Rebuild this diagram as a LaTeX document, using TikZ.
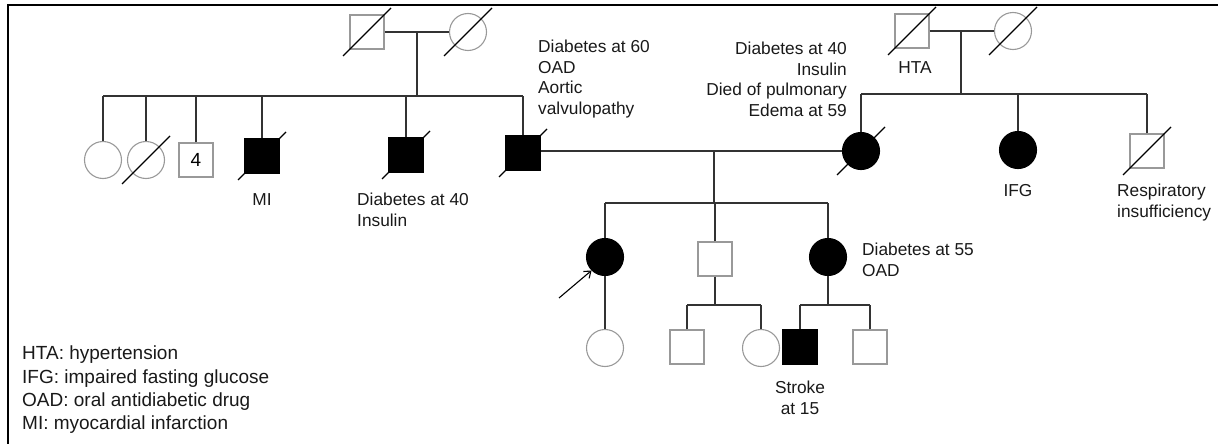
\documentclass[tikz,border=0pt]{standalone}
\usepackage{fontspec}
\setmainfont{Liberation Sans}
\usetikzlibrary{arrows.meta}
\newcommand\pdead[1]{\draw[dline] ([shift={(-24,24)}]#1.center) -- ([shift={(24,-24)}]#1.center);}
\begin{document}
\begin{tikzpicture}[x=1pt,y=-1pt,
  conn/.style={draw=black!80, line width=1.2pt},
  dline/.style={draw=black, line width=1.1pt},
  male/.style={rectangle, draw=black!40, line width=1.1pt, minimum size=34pt, inner sep=0pt},
  female/.style={circle, draw=black!40, line width=1.1pt, minimum size=37pt, inner sep=0pt},
  aff/.style={fill=black, draw=black},
  lbl/.style={inner sep=0pt, text=black!90, font=\fontsize{17.3}{20.5}\selectfont},
  legend/.style={inner sep=0pt, text=black!90, font=\fontsize{19}{23.3}\selectfont, align=left, anchor=north west},
  frame/.style={draw=black, line width=2.5pt}
]
\useasboundingbox (0,0) rectangle (1218,444);
\draw[frame] (8,444) -- (8,5) -- (1218,5);

% Generation I, left couple
\node[male]   (gf1) at (367,32) {};
\node[female] (gm1) at (468,32) {};
\pdead{gf1}\pdead{gm1}
\draw[conn] (gf1.east) -- (gm1.west);
\coordinate (u1) at (417,32);
\coordinate (s1) at (417,96);
\draw[conn] (u1) -- (s1);

% Generation II, left sibship
\node[female] (a1) at (103,160) {};
\node[female] (a2) at (146,160) {};
\node[male, font=\fontsize{19}{22}\selectfont] (a3) at (196,160) {4};
\node[male, aff] (a4) at (262,156) {};
\node[male, aff] (a5) at (406,155) {};
\node[male, aff] (fa) at (523,153) {};
\pdead{a2}\pdead{a4}\pdead{a5}\pdead{fa}
\draw[conn] (a1.north |- s1) -- (fa.north |- s1);
\foreach \n in {a1,a2,a3,a4,a5,fa} \draw[conn] (\n.north) -- (\n.north |- s1);

% Generation I, right couple
\node[male]   (gf2) at (912,31) {};
\node[female] (gm2) at (1013,31) {};
\pdead{gf2}\pdead{gm2}
\draw[conn] (gf2.east) -- (gm2.west);
\coordinate (u2) at (961,31);
\coordinate (s2) at (961,94);
\draw[conn] (u2) -- (s2);

% Generation II, right sibship
\node[female, aff] (mo) at (861,151) {};
\node[female, aff] (ifg) at (1018,150) {};
\node[male] (re) at (1147,151) {};
\pdead{mo}\pdead{re}
\draw[conn] (mo.north |- s2) -- (re.north |- s2);
\foreach \n in {mo,ifg,re} \draw[conn] (\n.north) -- (\n.north |- s2);

% Marriage
\draw[conn] (fa.east |- mo.west) -- (mo.west);
\coordinate (u3) at (714,151);
\coordinate (s3) at (714,203);
\draw[conn] (u3) -- (s3);

% Generation III
\node[female, aff] (pr) at (605,257) {};
\node[male] (br) at (715,259) {};
\node[female, aff] (si) at (828,257) {};
\draw[conn] (pr.north |- s3) -- (si.north |- s3);
\foreach \n in {pr,br,si} \draw[conn] (\n.north) -- (\n.north |- s3);
\coordinate (arr) at (559,298);
\draw[dline, -{Straight Barb[length=6pt,width=9pt]}] (arr) -- (pr.225);

% Generation IV
\node[female] (pc) at (605,348) {};
\draw[conn] (pr.south) -- (pc.north);

\coordinate (s4) at (715,305);
\node[male] (b1) at (687,347) {};
\node[female] (b2) at (761,348) {};
\draw[conn] (br.south) -- (s4);
\draw[conn] (b1.north |- s4) -- (b2.north |- s4);
\foreach \n in {b1,b2} \draw[conn] (\n.north) -- (\n.north |- s4);

\coordinate (s5) at (828,305);
\node[male, aff] (c1) at (800,347) {};
\node[male] (c2) at (870,347) {};
\draw[conn] (si.south) -- (s5);
\draw[conn] (c1.north |- s5) -- (c2.north |- s5);
\foreach \n in {c1,c2} \draw[conn] (\n.north) -- (\n.north |- s5);

% Labels
\node[lbl, align=left, anchor=north west] (t1) at (538,40) {Diabetes at 60\\OAD\\Aortic\\valvulopathy};
\node[lbl, align=right, anchor=north east] (t2) at (847,42) {Diabetes at 40\\Insulin\\Died of pulmonary\\Edema at 59};
\node[lbl, align=left, anchor=north west] (t3) at (357,193) {Diabetes at 40\\Insulin};
\node[lbl, anchor=north] (t4) at (262,193) {MI};
\node[lbl, anchor=north] (t5) at (915,61) {HTA};
\node[lbl, anchor=north] (t6) at (1018,184) {IFG};
\node[lbl, align=left, anchor=north west] (t7) at (1117,184) {Respiratory\\insufficiency};
\node[lbl, align=left, anchor=north west] (t8) at (862,243) {Diabetes at 55\\OAD};
\node[lbl, align=center, anchor=north] (t9) at (800,381) {Stroke\\at 15};

\node[legend] (lg) at (22,346) {HTA: hypertension\\IFG: impaired fasting glucose\\OAD: oral antidiabetic drug\\MI: myocardial infarction};
\end{tikzpicture}
\end{document}
